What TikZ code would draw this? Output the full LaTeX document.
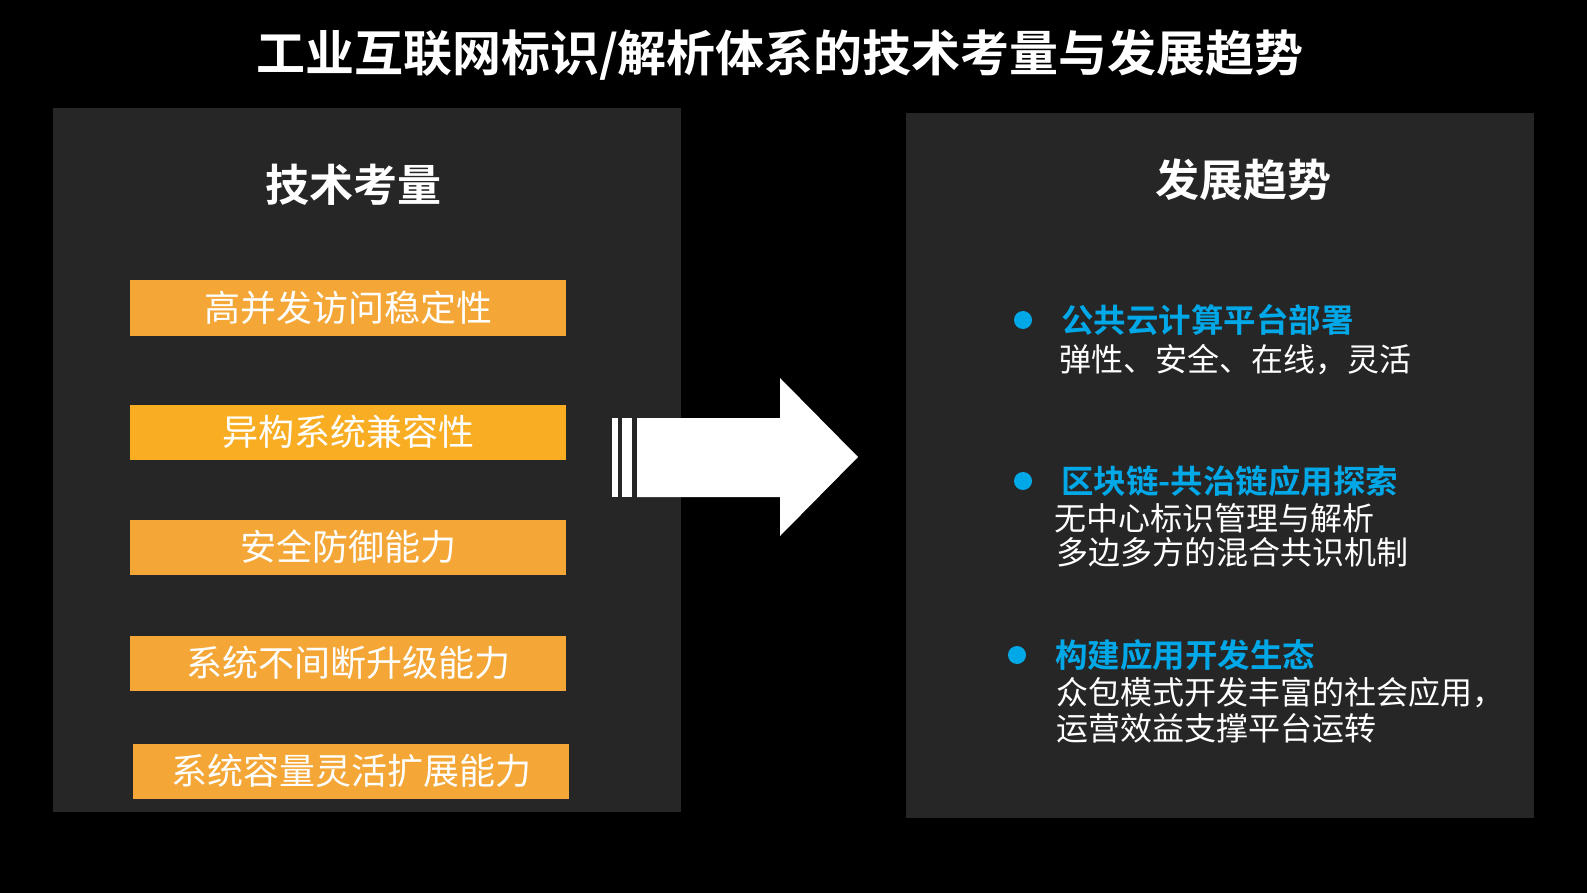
\documentclass[tikz,border=0pt]{standalone}
\usepackage{fontspec}
\newfontfamily\cjk{Noto Sans CJK SC}
\newfontfamily\cjkb{Noto Sans CJK SC Bold}
\definecolor{panel}{HTML}{262626}
\definecolor{org}{HTML}{F4A636}
\definecolor{blu}{HTML}{00A8E8}
\begin{document}
\begin{tikzpicture}[x=1pt,y=-1pt,
  obox/.style={fill=org,minimum width=436pt,minimum height=55pt,inner sep=0pt,text=white,font=\cjk\fontsize{36}{40}\selectfont},
  head/.style={text=white,font=\cjkb\fontsize{44}{48}\selectfont},
  bh/.style={text=blu,anchor=west,inner sep=0pt,font=\cjkb\fontsize{32.5}{36}\selectfont},
  bt/.style={text=white,anchor=west,inner sep=0pt,font=\cjk\fontsize{32}{36}\selectfont},
  dot/.style={circle,fill=blu,minimum size=18pt,inner sep=0pt}]
\fill[black] (0,0) rectangle (1587,893);
\useasboundingbox (0,0) rectangle (1587,893);
\node[text=white,font=\cjkb\fontsize{49}{54}\selectfont] (title) at (780,55) {工业互联网标识/解析体系的技术考量与发展趋势};
\fill[panel] (53,108) rectangle (681,812);
\fill[panel] (906,113) rectangle (1534,818);
\node[head] (lh) at (353,185) {技术考量};
\node[head] (rh) at (1243,180) {发展趋势};
\node[obox] (b1) at (348,308) {高并发访问稳定性};
\node[obox,fill=org!80!yellow!80!orange] (b2) at (348,432) {异构系统兼容性};
\node[obox] (b3) at (348,547) {安全防御能力};
\node[obox] (b4) at (348,663) {系统不间断升级能力};
\node[obox] (b5) at (351,771) {系统容量灵活扩展能力};
\fill[white] (612,418) rectangle (618,497);
\fill[white] (622,418) rectangle (632,497);
\fill[white] (637,418) -- (780,418) -- (780,378) -- (858,457) -- (780,536) -- (780,497) -- (637,497) -- cycle;
\node[dot] (d1) at (1023,320) {};
\node[bh] (h1) at (1061,320) {公共云计算平台部署};
\node[bt] (t1) at (1059,360) {弹性、安全、在线，灵活};
\node[dot] (d2) at (1023,481) {};
\node[bh] (h2) at (1061,481) {区块链-共治链应用探索};
\node[bt] (t2) at (1054,518) {无中心标识管理与解析};
\node[bt] (t3) at (1056,552) {多边多方的混合共识机制};
\node[dot] (d3) at (1017,655) {};
\node[bh] (h3) at (1055,655) {构建应用开发生态};
\node[bt] (t4) at (1056,693) {众包模式开发丰富的社会应用，};
\node[bt] (t5) at (1056,728) {运营效益支撑平台运转};
\end{tikzpicture}
\end{document}
